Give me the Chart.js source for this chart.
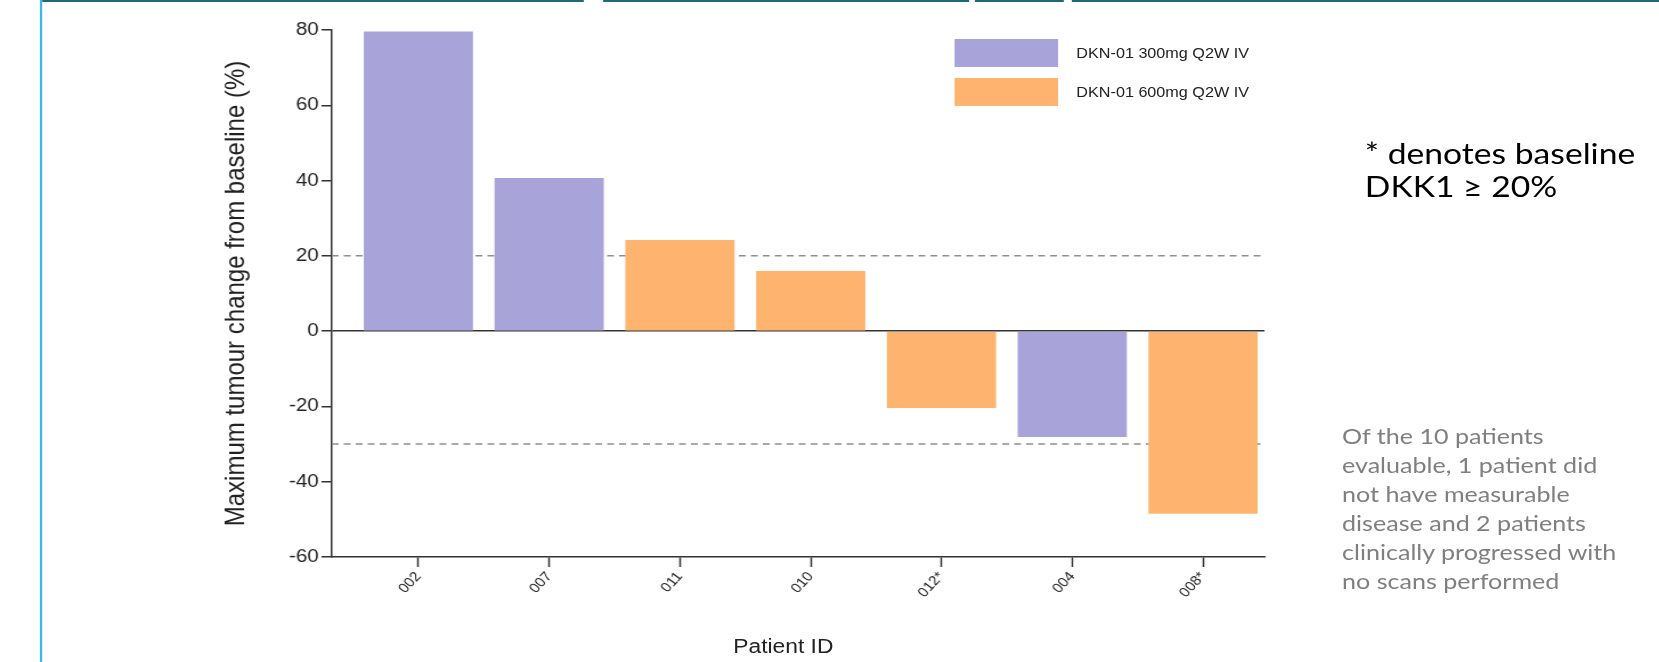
<!DOCTYPE html>
<html>
<head>
<meta charset="utf-8">
<script src="https://cdn.jsdelivr.net/npm/chart.js@4"></script>
<style>
  body { margin: 0; background: #fff; }
  /* the slide is a little stretched sideways, so the whole stage is scaled on x */
  #stage { position: relative; width: 1455px; height: 662px; transform: scaleX(1.1402); transform-origin: 0 0; overflow: hidden; }
  #chart { position: absolute; left: 0; top: 0; }
  .rule { position: absolute; top: 0; height: 2px; background: #1f6878; }
  #leftRule { position: absolute; left: 35px; top: 0; width: 2.2px; height: 662px; background: #36b8ea; }
  #legend { position: absolute; left: 837px; top: 39px; font: 14.2px 'Liberation Sans', Arial, sans-serif; color: #222; }
  #legend .item { display: flex; align-items: center; height: 28px; margin-bottom: 11px; }
  #legend .box { width: 91px; height: 28px; margin-right: 16px; }
  #xTitle { position: absolute; left: 587px; width: 200px; top: 633px; text-align: center; font: 20px 'Liberation Sans', Arial, sans-serif; line-height: 26px; color: #222; }
  #note { position: absolute; left: 1197px; top: 136px; font: 29.5px Lato, sans-serif; line-height: 33px; color: #000; }
  #side { position: absolute; left: 1177px; top: 421px; font: 22px Lato, sans-serif; line-height: 29px; color: #7f7f7f; }
</style>
</head>
<body>
<div id="stage">
  <div class="rule" style="left:37px;width:475px"></div>
  <div class="rule" style="left:529px;width:321px"></div>
  <div class="rule" style="left:855px;width:78px"></div>
  <div class="rule" style="left:940px;width:515px"></div>
  <div id="leftRule"></div>
  <canvas id="chart" width="1140" height="662"></canvas>
  <div id="legend"></div>
  <div id="xTitle">Patient ID</div>
  <div id="note">* denotes baseline<br>DKK1 ≥ 20%</div>
  <div id="side">Of the 10 patients<br>evaluable, 1 patient did<br>not have measurable<br>disease and 2 patients<br>clinically progressed with<br>no scans performed</div>
</div>
<script>
// data
const patientIds = ['002', '007', '011', '010', '012*', '004', '008*'];
const tumourChange = [79.6, 40.7, 24.2, 16.0, -20.4, -28.1, -48.5];
const doseGroup = [0, 0, 1, 1, 1, 0, 1];
const seriesLabels = ['DKN-01 300mg Q2W IV', 'DKN-01 600mg Q2W IV'];
const seriesColors = ['#a8a4da', '#feb46f'];
const yTicks = [-60, -40, -20, 0, 20, 40, 60, 80];
const refLines = [20, -30];

Chart.defaults.font.family = "'Liberation Sans', Arial, sans-serif";
Chart.defaults.color = '#222';

// dashed reference lines, drawn under the bars
const refLinePlugin = {
    id: 'refLines',
    beforeDatasetsDraw(chart) {
        const { ctx, chartArea, scales } = chart;
        ctx.save();
        ctx.strokeStyle = '#8f8f8f';
        ctx.lineWidth = 1.5;
        ctx.setLineDash([6, 4.5]);
        refLines.forEach(v => {
            const py = scales.y.getPixelForValue(v);
            ctx.beginPath();
            ctx.moveTo(chartArea.left, py);
            ctx.lineTo(chartArea.right, py);
            ctx.stroke();
        });
        ctx.restore();
    }
};

const datasets = seriesLabels.map((label, g) => ({
    label: label,
    backgroundColor: seriesColors[g],
    borderWidth: 0,
    grouped: false,
    barPercentage: 0.835,
    categoryPercentage: 1,
    data: patientIds
        .map((id, i) => ({ x: i, y: tumourChange[i], g: doseGroup[i] }))
        .filter(p => p.g === g)
}));

const chart = new Chart(document.getElementById('chart'), {
    type: 'bar',
    data: { datasets: datasets },
    options: {
        responsive: false,
        animation: false,
        devicePixelRatio: 1,
        layout: { padding: { left: 189, right: 31, top: 30, bottom: 0 } },
        plugins: { legend: { display: false }, tooltip: { enabled: false } },
        scales: {
            x: {
                type: 'linear',
                offset: false,
                min: -0.662,
                max: 6.47,
                afterBuildTicks: scale => { scale.ticks = patientIds.map((_, i) => ({ value: i })); },
                afterFit: scale => { scale.height = 105; },
                ticks: {
                    callback: value => patientIds[value],
                    autoSkip: false,
                    minRotation: 50,
                    maxRotation: 50,
                    padding: 2,
                    font: { size: 13.5 }
                },
                grid: { offset: false, drawOnChartArea: false, tickLength: 10, tickColor: '#333', tickWidth: 1.5 },
                border: { color: '#333', width: 1.5 }
            },
            y: {
                min: -60,
                max: 80,
                afterBuildTicks: scale => { scale.ticks = yTicks.map(v => ({ value: v })); },
                afterFit: scale => { scale.width = 102; },
                ticks: { padding: 2.5, font: { size: 18 } },
                grid: {
                    color: ctx => (ctx.tick && ctx.tick.value === 0 ? '#333' : 'rgba(0,0,0,0)'),
                    lineWidth: 1.5,
                    tickLength: 9,
                    tickColor: '#333',
                    tickWidth: 1.5
                },
                border: { color: '#333', width: 1.5 },
                title: { display: true, text: 'Maximum tumour change from baseline (%)', font: { size: 24 }, padding: { top: 4, bottom: 4 } }
            }
        }
    },
    plugins: [refLinePlugin]
});

// html legend built from the chart's datasets
const legendEl = document.getElementById('legend');
chart.data.datasets.forEach(ds => {
    const item = document.createElement('div');
    item.className = 'item';
    const box = document.createElement('span');
    box.className = 'box';
    box.style.background = ds.backgroundColor;
    const text = document.createElement('span');
    text.textContent = ds.label;
    item.appendChild(box);
    item.appendChild(text);
    legendEl.appendChild(item);
});
</script>
</body>
</html>
